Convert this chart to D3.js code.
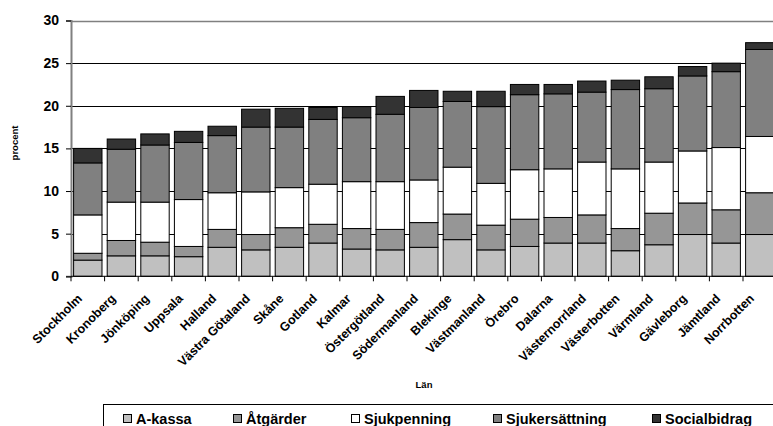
<!DOCTYPE html>
<html>
<head>
<meta charset="utf-8">
<script src="https://cdn.jsdelivr.net/npm/d3@7"></script>
<style>
  body { margin: 0; background: #fff; }
  svg { display: block; font-family: "Liberation Sans", Arial, sans-serif; }
</style>
</head>
<body>
<div class="container"></div>
<script>
const categories = ["Stockholm", "Kronoberg", "Jönköping", "Uppsala", "Halland", "Västra Götaland", "Skåne",
  "Gotland", "Kalmar", "Östergötland", "Södermanland", "Blekinge", "Västmanland", "Örebro", "Dalarna",
  "Västernorrland", "Västerbotten", "Värmland", "Gävleborg", "Jämtland", "Norrbotten"]

const aKassa = [1.9, 2.4, 2.4, 2.3, 3.4, 3.1, 3.4, 3.9, 3.2, 3.1, 3.4, 4.3, 3.1, 3.5, 3.9, 3.9, 3.0, 3.7, 4.9, 3.9, 4.9]
const atgarder = [0.8, 1.8, 1.6, 1.2, 2.1, 1.8, 2.3, 2.2, 2.4, 2.4, 2.9, 3.0, 2.9, 3.2, 3.0, 3.3, 2.6, 3.7, 3.7, 3.9, 4.9]
const sjukpenning = [4.5, 4.5, 4.7, 5.5, 4.3, 5.0, 4.7, 4.7, 5.5, 5.6, 5.0, 5.5, 4.9, 5.8, 5.7, 6.2, 7.0, 6.0, 6.1, 7.3, 6.6]
const sjukersattning = [6.1, 6.2, 6.7, 6.7, 6.7, 7.6, 7.1, 7.6, 7.5, 7.9, 8.5, 7.7, 9.0, 8.8, 8.8, 8.2, 9.3, 8.6, 8.8, 8.9, 10.2]
const socialbidrag = [1.7, 1.2, 1.3, 1.3, 1.1, 2.1, 2.2, 1.4, 1.3, 2.1, 2.0, 1.2, 1.8, 1.2, 1.1, 1.3, 1.1, 1.4, 1.1, 1.0, 0.8]

const seriesNames = ["A-kassa", "Åtgärder", "Sjukpenning", "Sjukersättning", "Socialbidrag"]
const seriesColors = ["#c0c0c0", "#969696", "#ffffff", "#808080", "#333333"]
const yTicks = [0, 5, 10, 15, 20, 25, 30]

const width = 773
const height = 426
const margin = { top: 20.5, bottom: 150, left: 71 }

// table for d3.stack
const table = categories.map((c, i) => ({
  name: c,
  "A-kassa": aKassa[i],
  "Åtgärder": atgarder[i],
  "Sjukpenning": sjukpenning[i],
  "Sjukersättning": sjukersattning[i],
  "Socialbidrag": socialbidrag[i]
}))
const stacked = d3.stack().keys(seriesNames)(table)

const svg = d3.select(".container")
  .append("svg")
  .attr("width", width)
  .attr("height", height)
  .attr("viewBox", [0, 0, width, height])

const step = 33.6
const x = d3.scaleBand()
  .domain(categories)
  .range([margin.left, margin.left + step * categories.length])
  .paddingInner(0.155)
  .paddingOuter(0.0775)

const y = d3.scaleLinear()
  .domain([0, 30])
  .range([276.3, margin.top])

// gridlines
svg.append("g")
  .selectAll("line")
  .data(yTicks.filter(d => d > 0 && d < 30))
  .join("line")
  .attr("x1", margin.left)
  .attr("x2", width)
  .attr("y1", d => Math.round(y(d)) + 0.5)
  .attr("y2", d => Math.round(y(d)) + 0.5)
  .attr("stroke", "#000")
  .attr("stroke-width", 1)

// plot area top border
svg.append("line")
  .attr("x1", margin.left).attr("x2", width)
  .attr("y1", Math.round(y(30)) + 0.5).attr("y2", Math.round(y(30)) + 0.5)
  .attr("stroke", "#808080")
  .attr("stroke-width", 1.5)

// bars
svg.append("g")
  .selectAll("g")
  .data(stacked)
  .join("g")
  .attr("fill", (d, i) => seriesColors[i])
  .selectAll("rect")
  .data(d => d)
  .join("rect")
  .attr("x", d => x(d.data.name))
  .attr("width", x.bandwidth())
  .attr("y", d => y(d[1]))
  .attr("height", d => y(d[0]) - y(d[1]))
  .attr("stroke", "#000")
  .attr("stroke-width", 1)

// y axis
const yAxis = svg.append("g")
  .attr("transform", `translate(${margin.left}, 0)`)
  .call(d3.axisLeft(y).tickValues(yTicks).tickSize(5).tickPadding(7))
yAxis.select(".domain").attr("stroke", "#808080").attr("stroke-width", 2)
yAxis.selectAll("text")
  .attr("font-size", "14px")
  .attr("font-weight", "bold")
  .attr("font-family", "Liberation Sans, Arial, sans-serif")
  .attr("fill", "#000")

// x axis
const xTicks = d3.range(categories.length + 1).map(i => margin.left + i * step)
const xAxis = svg.append("g")
xAxis.append("line")
  .attr("x1", margin.left).attr("x2", width)
  .attr("y1", y(0)).attr("y2", y(0))
  .attr("stroke", "#000")
xAxis.selectAll("line.tick")
  .data(xTicks)
  .join("line")
  .attr("class", "tick")
  .attr("x1", d => d).attr("x2", d => d)
  .attr("y1", y(0)).attr("y2", y(0) + 5)
  .attr("stroke", "#000")

xAxis.selectAll("text")
  .data(categories)
  .join("text")
  .attr("transform", d => `translate(${x(d) + x.bandwidth() / 2 - 5}, ${y(0) + 23}) rotate(-45)`)
  .attr("text-anchor", "end")
  .attr("font-size", "12.5px")
  .attr("font-weight", "bold")
  .text(d => d)

// axis titles
svg.append("text")
  .attr("transform", `translate(18, 143) rotate(-90)`)
  .attr("text-anchor", "middle")
  .attr("font-size", "9.5px")
  .attr("font-weight", "bold")
  .text("procent")

svg.append("text")
  .attr("x", 424)
  .attr("y", 388)
  .attr("text-anchor", "middle")
  .attr("font-size", "9.5px")
  .attr("font-weight", "bold")
  .text("Län")

// legend
const legend = svg.append("g").attr("id", "legend")
legend.append("rect")
  .attr("x", 103.5)
  .attr("y", 404.5)
  .attr("width", 700)
  .attr("height", 60)
  .attr("fill", "#fff")
  .attr("stroke", "#000")

const legendX = [123, 233, 351, 493, 652]
seriesNames.forEach((name, i) => {
  legend.append("rect")
    .attr("x", legendX[i] + 0.5)
    .attr("y", 414.5)
    .attr("width", 8)
    .attr("height", 8)
    .attr("fill", seriesColors[i])
    .attr("stroke", "#000")
  legend.append("text")
    .attr("x", legendX[i] + 13)
    .attr("y", 423.5)
    .attr("font-size", "14.5px")
    .attr("font-weight", "bold")
    .text(name)
})
</script>
</body>
</html>
